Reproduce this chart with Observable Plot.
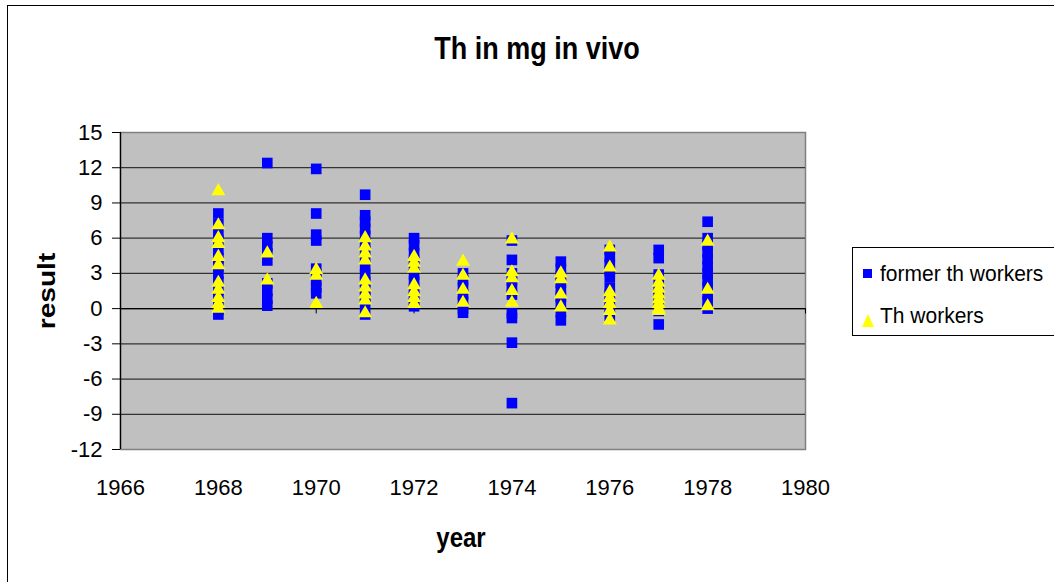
<!DOCTYPE html>
<html>
<head>
<meta charset="utf-8">
<script src="https://cdn.jsdelivr.net/npm/d3@7"></script>
<script src="https://cdn.jsdelivr.net/npm/@observablehq/plot@0.6"></script>
<style>
  html, body { margin: 0; padding: 0; background: #fff; }
  #wrap { position: relative; width: 1054px; height: 582px; overflow: hidden; background: #fff;
          font-family: "Liberation Sans", Arial, sans-serif; color: #000; }
  #border { position: absolute; left: 7px; top: 5px; width: 1200px; height: 700px; border: 1px solid #000; }
  #chart { position: absolute; left: 0; top: 0; }
  .title { position: absolute; font-weight: bold; white-space: nowrap; }
  #title { left: 537px; top: 58px; font-size: 27px; transform: translate(-50%, -80%) scaleY(1.17); }
  #xlabel { left: 461px; top: 546px; font-size: 24px; transform: translate(-50%, -80%) scaleY(1.17); }
  #ylabel { left: 55px; top: 291px; font-size: 24px; transform-origin: 0 0; transform: rotate(-90deg) scaleX(1.17) translate(-50%, -80%); }
  #legend { position: absolute; left: 852px; top: 247px; width: 300px; height: 87px; border: 1px solid #000; background: #fff; }
  .item { position: absolute; left: 8px; font-size: 21px; white-space: nowrap; }
  .item svg { position: absolute; left: 0; }
  .item span { position: absolute; left: 19px; transform-origin: 0 50%; transform: scaleY(1.08); }
</style>
</head>
<body>
<div id="wrap">
  <div id="border"></div>
  <div id="chart"></div>
  <div class="title" id="title">Th in mg in vivo</div>
  <div class="title" id="xlabel">year</div>
  <div class="title" id="ylabel">result</div>
  <div id="legend"></div>
</div>
<script>
const years = [1968, 1969, 1970, 1971, 1972, 1973, 1974, 1975, 1976, 1977, 1978];

const formerResults = [
  [8.1, 7.2, 6.5, 5.8, 5.0, 4.3, 3.6, 3.0, 2.3, 1.6, 1.0, 0.4, -0.1, -0.5],
  [12.4, 6.0, 5.3, 4.7, 4.1, 2.15, 1.5, 0.85, 0.25],
  [11.9, 8.1, 6.3, 5.8, 3.4, 2.9, 2.4, 1.8, 1.3],
  [9.7, 7.95, 7.4, 6.8, 6.2, 5.5, 4.9, 4.2, 3.6, 2.9, 2.3, 1.6, 1.0, 0.4, -0.5],
  [6.0, 5.4, 4.7, 4.1, 3.5, 2.9, 2.3, 1.7, 1.1, 0.6, 0.2],
  [3.0, 2.4, 1.8, 1.2, 0.6, 0.0, -0.35],
  [5.8, 4.15, 3.0, 2.4, 1.8, 1.2, -0.4, -0.8, -2.9, -8.05],
  [4.0, 3.4, 2.8, 2.2, 1.6, 1.0, 0.4, -0.3, -1.0],
  [5.0, 4.4, 3.8, 3.2, 2.7, 1.8, 1.2, 0.6, 0.0, -0.6],
  [5.0, 4.3, 2.9, 2.3, 1.7, 1.1, 0.5, -0.2, -1.35],
  [7.4, 6.0, 5.4, 4.8, 4.2, 3.6, 3.0, 2.4, 1.8, 1.2, 0.6, 0.0]
];

const thResults = [
  [10.0, 7.1, 6.0, 5.5, 4.4, 3.7, 2.2, 1.6, 0.9, 0.4, 0.0],
  [4.7, 2.4],
  [3.3, 2.8, 0.4],
  [6.0, 5.3, 4.7, 4.1, 2.4, 1.8, 1.2, 0.7, -0.4],
  [4.4, 3.9, 3.4, 2.0, 1.4, 0.9, 0.4],
  [4.0, 2.8, 1.6, 0.5],
  [5.9, 3.1, 2.6, 1.5, 0.5],
  [3.0, 2.5, 1.2, 0.1],
  [5.2, 3.5, 1.4, 0.9, 0.4, -0.2, -1.0],
  [2.8, 2.2, 1.7, 1.2, 0.8, 0.4, 0.0, -0.2],
  [5.7, 1.6, 0.2]
];

const seriesNames = ["former th workers", "Th workers"];
const xTicks = [1966, 1968, 1970, 1972, 1974, 1976, 1978, 1980];
const yTicks = [-12, -9, -6, -3, 0, 3, 6, 9, 12, 15];

const former = years.flatMap((yr, i) => formerResults[i].map(v => ({year: yr, result: v})));
const th = years.flatMap((yr, i) => thResults[i].map(v => ({year: yr, result: v})));

const chart = Plot.plot({
  width: 1054,
  height: 582,
  marginLeft: 120,
  marginRight: 249,
  marginTop: 132,
  marginBottom: 133,
  style: {background: "transparent", fontFamily: "'Liberation Sans', Arial, sans-serif", fontSize: "22px", color: "#000"},
  x: {domain: [1966, 1980]},
  y: {domain: [-12, 15]},
  marks: [
    Plot.frame({fill: "#C0C0C0", stroke: "#808080", strokeWidth: 1.5}),
    Plot.ruleY(yTicks.filter(d => d > -12 && d < 15), {y: d => d, stroke: "#333", strokeWidth: 1.3}),
    Plot.ruleY([0], {stroke: "#000", strokeWidth: 1.3}),
    Plot.ruleX([1966], {stroke: "#000", strokeWidth: 1.3}),
    Plot.ruleX(xTicks, {x: d => d, y1: 0, y2: -0.45, stroke: "#000"}),
    Plot.axisY({ticks: yTicks, tickSize: 8, tickPadding: 10, tickFormat: d => d < 0 ? "-" + (-d) : String(d), label: null, fontSize: 22}),
    Plot.axisX({ticks: xTicks, tickSize: 0, tickPadding: 30, tickFormat: d => String(d), label: null, fontSize: 22}),
    Plot.dot(former, {x: "year", y: "result", symbol: "square", fill: "#0000FF", r: 6}),
    Plot.dot(th, {x: "year", y: "result", symbol: "triangle", fill: "#FFFF00", r: 5.2})
  ]
});
document.getElementById("chart").appendChild(chart);

const legend = document.getElementById("legend");
legend.innerHTML = `
  <div class="item" style="top:10px;height:30px;">
    <svg width="14" height="30" style="top:0"><rect x="2" y="11" width="9" height="9" fill="#0000FF"/></svg>
    <span style="top:3px">${seriesNames[0]}</span>
  </div>
  <div class="item" style="top:52px;height:30px;">
    <svg width="16" height="30" style="top:0"><polygon points="7,14 13,27 1,27" fill="#FFFF00"/></svg>
    <span style="top:3px">${seriesNames[1]}</span>
  </div>`;
</script>
</body>
</html>
